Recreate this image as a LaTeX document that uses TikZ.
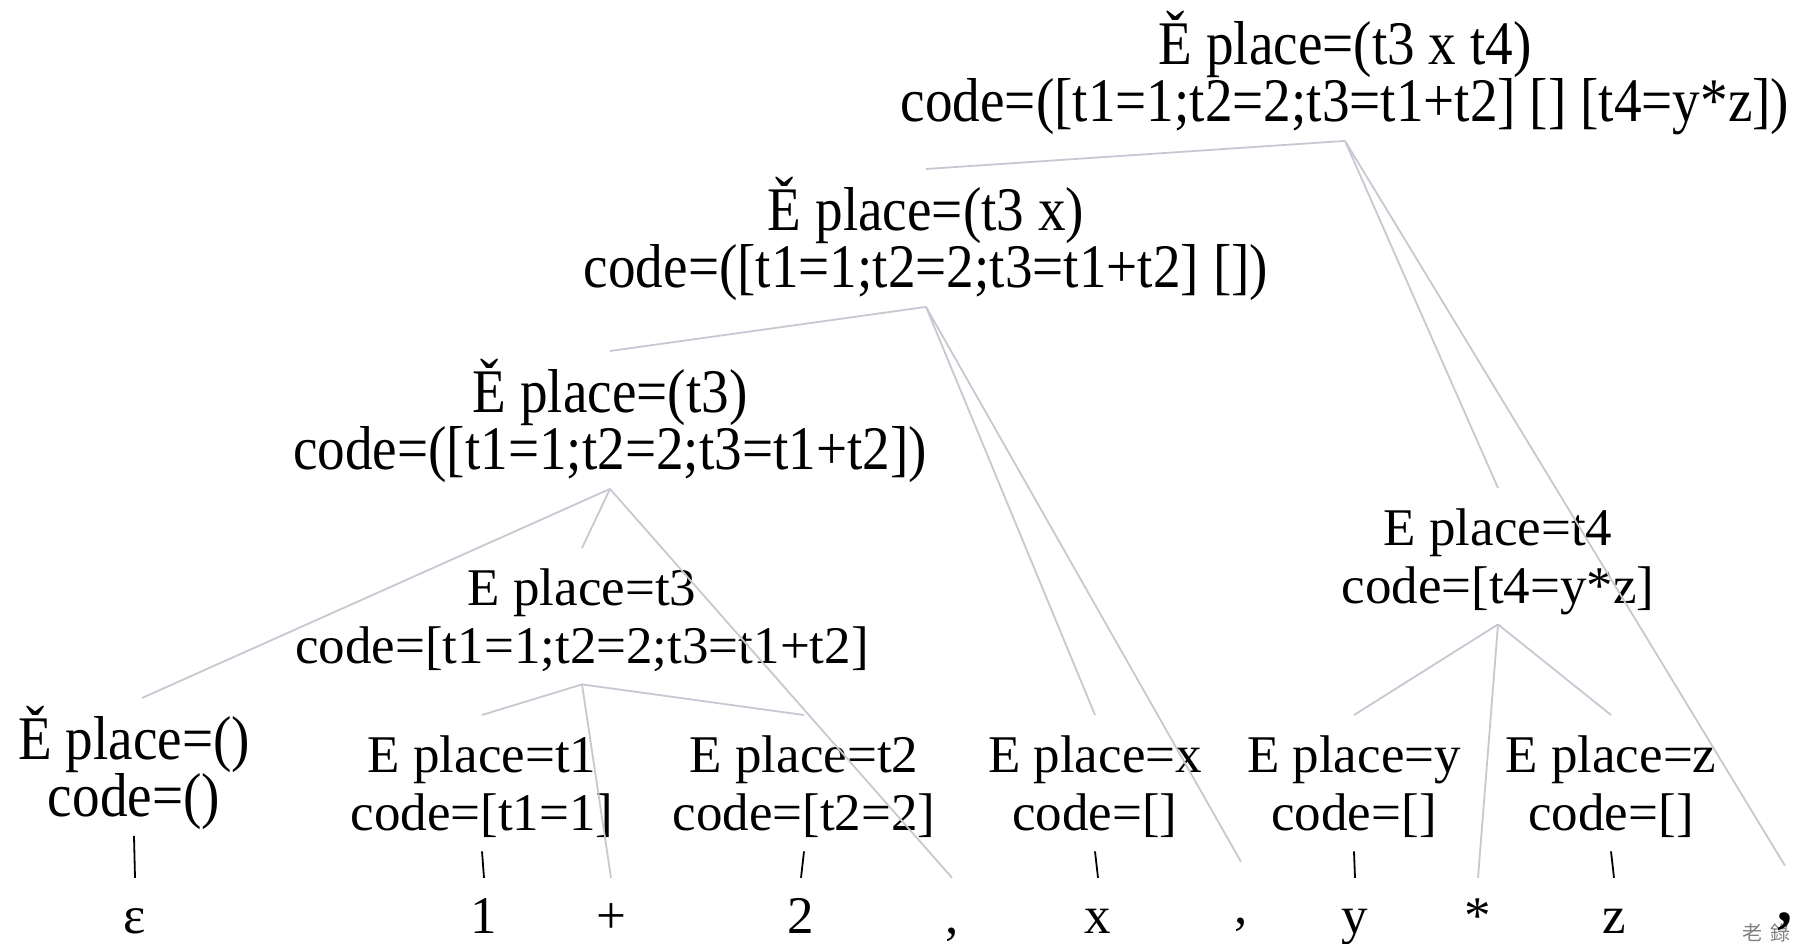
\documentclass[tikz,border=0pt]{standalone}
\usepackage{fontspec}
\setmainfont{Liberation Serif}
\newfontfamily\condfont[FakeStretch=0.89]{Liberation Serif}
\newfontfamily\wmfont{Noto Sans CJK TC}
\definecolor{edgegrey}{RGB}{200,200,210}
\newcommand\Etwo[2]{\rule{0pt}{57pt}#1\\#2\rule[-21pt]{0pt}{21pt}}
\newcommand\Ctwo[2]{\rule{0pt}{61pt}#1\\#2\rule[-19pt]{0pt}{19pt}}
\begin{document}
\begin{tikzpicture}[x=1pt,y=-1pt,
  enode/.style={anchor=north,inner sep=0pt,align=center,font=\fontsize{53}{58}\selectfont},
  cnode/.style={anchor=north,inner sep=0pt,align=center,font=\condfont\fontsize{62}{57.5}\selectfont},
  leaf/.style={anchor=base,inner sep=0pt,text height=55pt,text depth=0pt,font=\fontsize{53}{58}\selectfont},
  conn/.style={draw=edgegrey,line width=1.8pt},
  stemline/.style={draw=black,line width=1.8pt}]
\fill[white] (0,0) rectangle (1797,944);
\useasboundingbox (0,0) rectangle (1797,944);
% inner nodes
\node[cnode] (T) at (1345,3) {\Ctwo{Ě place=(t3 x t4)}{code=([t1=1;t2=2;t3=t1+t2] [] [t4=y*z])}};
\node[cnode] (A) at (926,169) {\Ctwo{Ě place=(t3 x)}{code=([t1=1;t2=2;t3=t1+t2] [])}};
\node[cnode] (B) at (610,351) {\Ctwo{Ě place=(t3)}{code=([t1=1;t2=2;t3=t1+t2])}};
\node[cnode] (D) at (134,698) {\Ctwo{Ě place=()}{code=()}};
\node[enode] (C) at (582,548) {\Etwo{E place=t3}{code=[t1=1;t2=2;t3=t1+t2]}};
\node[enode] (F) at (1498,488) {\Etwo{E place=t4}{code=[t4=y*z]}};
\node[enode] (E1) at (482,715) {\Etwo{E place=t1}{code=[t1=1]}};
\node[enode] (E2) at (804,715) {\Etwo{E place=t2}{code=[t2=2]}};
\node[enode] (Ex) at (1095,715) {\Etwo{E place=x}{code=[]}};
\node[enode] (Ey) at (1354,715) {\Etwo{E place=y}{code=[]}};
\node[enode] (Ez) at (1611,715) {\Etwo{E place=z}{code=[]}};
% leaves
\node[leaf] (eps) at (135,933) {ε};
\node[leaf] (one) at (484,933) {1};
\node[leaf] (plus) at (611,933) {+};
\node[leaf] (two) at (801,933) {2};
\node[leaf] (c1) at (952,933) {,};
\node[leaf] (xl) at (1098,933) {x};
\node[leaf] (c2) at (1241,923) {,};
\node[leaf] (yl) at (1355,933) {y};
\node[leaf] (star) at (1478,933) {*};
\node[leaf] (zl) at (1614,933) {z};
\node[font=\wmfont\fontsize{20}{20}\selectfont,text=gray,inner sep=0pt] (wm) at (1766,933) {老\hspace{8pt}錄};
\node[leaf,font=\bfseries\fontsize{60}{60}\selectfont] (rp) at (1785,921) {,};
% connectors
\draw[conn] (T.south) -- (A.north);
\draw[conn] (T.south) -- (F.north);
\draw[conn] (T.south) -- (rp.north);
\draw[conn] (A.south) -- (B.north);
\draw[conn] (A.south) -- (Ex.north);
\draw[conn] (A.south) -- ([yshift=6pt]c2.north);
\draw[conn] (B.south) -- ([xshift=8pt]D.north);
\draw[conn] (B.south) -- (C.north);
\draw[conn] (B.south) -- (c1.north);
\draw[conn] (C.south) -- (E1.north);
\draw[conn] (C.south) -- (E2.north);
\draw[conn] (C.south) -- (plus.north);
\draw[conn] (F.south) -- (Ey.north);
\draw[conn] (F.south) -- (star.north);
\draw[conn] (F.south) -- (Ez.north);
\draw[stemline] (D.south) -- (eps.north);
\draw[stemline] (E1.south) -- (one.north);
\draw[stemline] (E2.south) -- (two.north);
\draw[stemline] (Ex.south) -- (xl.north);
\draw[stemline] (Ey.south) -- (yl.north);
\draw[stemline] (Ez.south) -- (zl.north);
\end{tikzpicture}
\end{document}
